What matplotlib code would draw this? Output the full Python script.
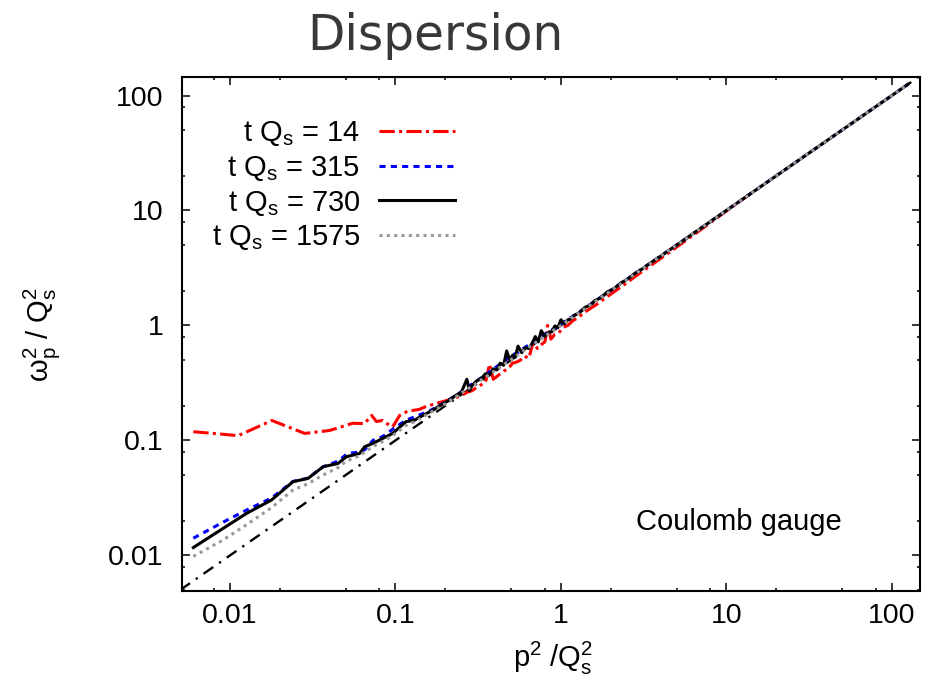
import matplotlib

matplotlib.use("Agg")
import matplotlib.pyplot as plt  # noqa: E402
from matplotlib.ticker import LogLocator, NullFormatter  # noqa: E402

plt.rcParams["font.family"] = ["Liberation Sans", "DejaVu Sans"]
plt.rcParams["mathtext.fontset"] = "custom"
plt.rcParams["mathtext.rm"] = "Liberation Sans"
plt.rcParams["mathtext.it"] = "Liberation Sans:italic"

# p^2/Qs^2 and omega_p^2/Qs^2, one pair of lists per time
p2_t14 = [0.006, 0.0112, 0.0179, 0.0283, 0.040, 0.0551, 0.065, 0.0717, 0.0767,
          0.0835, 0.0958, 0.106, 0.118, 0.139, 0.153, 0.177, 0.203, 0.23, 0.25,
          0.27, 0.29, 0.31, 0.33, 0.35, 0.37, 0.39, 0.42, 0.45, 0.48, 0.51, 0.54,
          0.57, 0.60, 0.64, 0.68, 0.72, 0.76, 0.80, 0.83, 0.87, 0.92, 0.97, 1.03,
          1.1, 1.18, 1.27, 1.37, 1.5, 1.65, 1.8, 2.0, 2.2, 2.45, 2.75, 3.1, 3.5,
          4.0, 4.6, 5.3, 6.2, 7.5, 9.0, 11.0, 14.0]
w2_t14 = [0.119, 0.110, 0.149, 0.115, 0.122, 0.141, 0.140, 0.165, 0.146,
          0.149, 0.130, 0.165, 0.179, 0.186, 0.197, 0.210, 0.222, 0.235, 0.245,
          0.262, 0.27, 0.29, 0.305, 0.32, 0.46, 0.34, 0.37, 0.40, 0.42, 0.47, 0.48,
          0.50, 0.54, 0.52, 0.72, 0.63, 0.68, 0.72, 1.0, 0.76, 0.84, 0.86, 0.96,
          1.0, 1.1, 1.17, 1.28, 1.40, 1.53, 1.68, 1.87, 2.06, 2.3, 2.6, 2.95, 3.33,
          3.82, 4.4, 5.1, 6.0, 7.3, 8.85, 10.9, 14.0]

p2_t315 = [0.006, 0.009, 0.0126, 0.0178, 0.024, 0.0296, 0.0365, 0.045, 0.0505,
           0.055, 0.060, 0.0652, 0.073, 0.0836, 0.0962, 0.1156, 0.13, 0.16, 0.2,
           0.25, 0.3, 0.35, 0.4, 0.45, 0.5, 0.55, 0.6, 0.7, 0.8, 0.9, 1.0, 1.2,
           1.5, 2.0, 3.0, 5.0, 10.0, 20.0, 50.0, 125.0]
w2_t315 = [0.0141, 0.0193, 0.0248, 0.0315, 0.044, 0.047, 0.059, 0.066, 0.0755,
           0.078, 0.079, 0.083, 0.100, 0.108, 0.125, 0.150, 0.16, 0.18, 0.215,
           0.265, 0.32, 0.37, 0.43, 0.48, 0.55, 0.58, 0.64, 0.73, 0.84, 0.93, 1.03,
           1.22, 1.52, 2.02, 3.02, 5.0, 10.0, 20.0, 50.0, 125.0]

p2_t730 = [0.006, 0.0091, 0.0126, 0.0178, 0.024, 0.0296, 0.0365, 0.0449, 0.0505,
           0.0553, 0.0607, 0.0652, 0.0731, 0.0836, 0.0962, 0.1156, 0.13, 0.15,
           0.17, 0.19, 0.21, 0.23, 0.25, 0.27, 0.28, 0.29, 0.31, 0.33, 0.35, 0.37,
           0.39, 0.41, 0.43, 0.45, 0.47, 0.49, 0.51, 0.53, 0.55, 0.58, 0.61, 0.64,
           0.67, 0.70, 0.73, 0.76, 0.80, 0.84, 0.88, 0.92, 0.96, 1.0, 1.05, 1.1,
           1.15, 1.2, 1.3, 1.4, 1.5, 1.6, 1.75, 1.9, 2.1, 2.3, 2.5, 2.8, 3.1, 3.5,
           4.0, 4.6, 5.3, 6.2, 7.5, 9.0, 11.0, 14.0, 18.0, 24.0, 32.0, 45.0, 60.0,
           80.0, 100.0, 125.0]
w2_t730 = [0.0117, 0.0172, 0.0232, 0.0303, 0.0437, 0.0467, 0.059, 0.063, 0.0721,
           0.0745, 0.077, 0.0882, 0.0942, 0.104, 0.115, 0.1455, 0.15, 0.168,
           0.185, 0.205, 0.222, 0.245, 0.262, 0.34, 0.27, 0.30, 0.33, 0.345, 0.38,
           0.37, 0.42, 0.41, 0.47, 0.45, 0.60, 0.50, 0.55, 0.53, 0.66, 0.58, 0.64,
           0.63, 0.70, 0.80, 0.72, 0.90, 0.80, 0.87, 0.88, 0.99, 0.96, 1.12, 1.03,
           1.12, 1.14, 1.22, 1.30, 1.44, 1.50, 1.64, 1.75, 1.95, 2.1, 2.34, 2.5,
           2.84, 3.1, 3.52, 4.0, 4.6, 5.3, 6.2, 7.5, 9.0, 11.0, 14.0, 18.0, 24.0,
           32.0, 45.0, 60.0, 80.0, 100.0, 125.0]

p2_t1575 = [0.006, 0.009, 0.0126, 0.0178, 0.024, 0.0296, 0.0365, 0.045, 0.0505,
            0.060, 0.073, 0.0836, 0.0962, 0.1156, 0.13, 0.16, 0.2, 0.25, 0.3,
            0.35, 0.4, 0.45, 0.5, 0.6, 0.7, 0.8, 0.9, 1.0, 1.2, 1.5, 2.0, 3.0,
            5.0, 10.0, 20.0, 50.0, 125.0]
w2_t1575 = [0.0098, 0.0135, 0.0185, 0.026, 0.037, 0.042, 0.050, 0.058, 0.066,
            0.073, 0.088, 0.098, 0.110, 0.135, 0.145, 0.172, 0.208, 0.258, 0.305,
            0.355, 0.405, 0.455, 0.505, 0.605, 0.705, 0.805, 0.905, 1.0, 1.2, 1.5,
            2.0, 3.0, 5.0, 10.0, 20.0, 50.0, 125.0]

# free dispersion omega^2 = p^2
free_p2 = [0.005, 150.0]
free_w2 = [0.005, 150.0]

series = [
    ("t Q$_\\mathregular{s}$ = 14", p2_t14, w2_t14, "#ff0000", (5, 1.4, 1, 1.4)),
    ("t Q$_\\mathregular{s}$ = 315", p2_t315, w2_t315, "#0000ff", (2, 1.7)),
    ("t Q$_\\mathregular{s}$ = 730", p2_t730, w2_t730, "#000000", None),
    ("t Q$_\\mathregular{s}$ = 1575", p2_t1575, w2_t1575, "#999999", (1, 1.4)),
]

tick_values = [0.01, 0.1, 1, 10, 100]
tick_labels = ["0.01", "0.1", "1", "10", "100"]

fig = plt.figure(figsize=(9.25, 6.84), dpi=100)
ax = fig.add_axes([0.1964, 0.136, 0.7982, 0.7515])

for label, xs, ys, color, dashes in series:
    (line,) = ax.plot(xs, ys, color=color, lw=2.2, label=label)
    if dashes is not None:
        line.set_dashes(dashes)

(free,) = ax.plot(free_p2, free_w2, color="black", lw=1.7, zorder=1.5)
free.set_dashes((5, 3, 1, 3))

ax.set_xscale("log")
ax.set_yscale("log")

for axis in (ax.xaxis, ax.yaxis):
    axis.set_minor_locator(LogLocator(base=10, subs=[2, 5, 8]))
    axis.set_minor_formatter(NullFormatter())
ax.set_xticks(tick_values, labels=tick_labels)
ax.set_yticks(tick_values, labels=tick_labels)
ax.set_xlim(0.0051, 148)
ax.set_ylim(0.0049, 145)

ax.tick_params(which="both", direction="in", top=True, right=True, width=1.1)
ax.tick_params(which="major", length=5.5, labelsize=20.5)
ax.tick_params(which="minor", length=2.5)
ax.tick_params(axis="x", which="major", pad=9)
ax.tick_params(axis="y", which="major", pad=13)
for spine in ax.spines.values():
    spine.set_linewidth(1.5)

ax.legend(
    loc="upper right",
    bbox_to_anchor=(455 / 925, 1 - 119 / 684),
    bbox_transform=fig.transFigure,
    frameon=False,
    markerfirst=False,
    fontsize=21,
    handlelength=2.6,
    handletextpad=0.65,
    labelspacing=0.2,
    borderpad=0,
    borderaxespad=0,
)

ax.text(0.6155, 0.135, "Coulomb gauge", transform=ax.transAxes, fontsize=21,
        ha="left", va="center")

fig.text(435 / 925, 1 - 50 / 684, "Dispersion", fontsize=35,
         family="DejaVu Sans", color="#383838", ha="center", va="baseline")
fig.text(553 / 925, 1 - 658 / 684,
         "p$^\\mathregular{2}$ /Q$_\\mathregular{s}^\\mathregular{2}$",
         fontsize=21, ha="center", va="center")
fig.text(42 / 925, 1 - 335 / 684,
         "$\\mathregular{ω_p^2}$ / Q$_\\mathregular{s}^\\mathregular{2}$",
         fontsize=21, ha="center", va="center", rotation=90)

fig.savefig("out.png", dpi=100)
